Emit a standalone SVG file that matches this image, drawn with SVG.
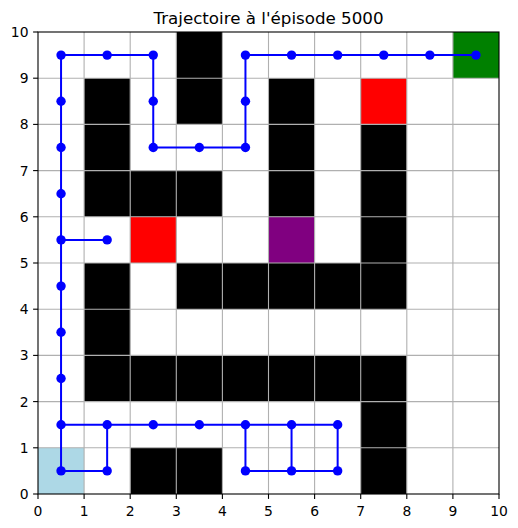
<svg xmlns="http://www.w3.org/2000/svg" xmlns:xlink="http://www.w3.org/1999/xlink" width="518" height="528" viewBox="0 0 518 528">
<style>
text{font-family:"DejaVu Sans","Liberation Sans",sans-serif;fill:#000}
.tk{font-size:13.9px}
.xl{text-anchor:middle}
.yl{text-anchor:end}
.wall{fill:#000}
.grid line{stroke:#b0b0b0;stroke-width:1.1}
.ticks line{stroke:#000;stroke-width:1.1}
.traj{stroke:#0000ff;stroke-width:2;fill:none;stroke-linejoin:round}
</style>
<defs>
<circle id="dot" r="4.7" fill="#0000ff"/>
</defs>
<rect width="518" height="528" fill="#fff"/>
<text x="268.5" y="24" font-size="16.7" text-anchor="middle">Trajectoire à l'épisode 5000</text>
<g id="cells">
<rect x="38" y="447.8" width="46.1" height="46.2" fill="#add8e6"/>
<rect x="452.9" y="32" width="46.1" height="46.2" fill="#008000"/>
<rect x="360.7" y="78.2" width="46.1" height="46.2" fill="#ff0000"/>
<rect x="130.2" y="216.8" width="46.1" height="46.2" fill="#ff0000"/>
<rect x="268.5" y="216.8" width="46.1" height="46.2" fill="#800080"/>
<g class="wall">
<rect x="176.3" y="32" width="46.1" height="92.4"/>
<rect x="84.1" y="78.2" width="46.1" height="138.6"/>
<rect x="268.5" y="78.2" width="46.1" height="138.6"/>
<rect x="360.7" y="124.4" width="46.1" height="184.8"/>
<rect x="130.2" y="170.6" width="92.2" height="46.2"/>
<rect x="84.1" y="263" width="46.1" height="92.4"/>
<rect x="176.3" y="263" width="230.5" height="46.2"/>
<rect x="84.1" y="355.4" width="322.7" height="46.2"/>
<rect x="360.7" y="401.6" width="46.1" height="92.4"/>
<rect x="130.2" y="447.8" width="92.2" height="46.2"/>
</g>
</g>
<g class="grid">
<line x1="84.1" y1="32" x2="84.1" y2="494"/>
<line x1="130.2" y1="32" x2="130.2" y2="494"/>
<line x1="176.3" y1="32" x2="176.3" y2="494"/>
<line x1="222.4" y1="32" x2="222.4" y2="494"/>
<line x1="268.5" y1="32" x2="268.5" y2="494"/>
<line x1="314.6" y1="32" x2="314.6" y2="494"/>
<line x1="360.7" y1="32" x2="360.7" y2="494"/>
<line x1="406.8" y1="32" x2="406.8" y2="494"/>
<line x1="452.9" y1="32" x2="452.9" y2="494"/>
<line x1="38" y1="447.8" x2="499" y2="447.8"/>
<line x1="38" y1="401.6" x2="499" y2="401.6"/>
<line x1="38" y1="355.4" x2="499" y2="355.4"/>
<line x1="38" y1="309.2" x2="499" y2="309.2"/>
<line x1="38" y1="263" x2="499" y2="263"/>
<line x1="38" y1="216.8" x2="499" y2="216.8"/>
<line x1="38" y1="170.6" x2="499" y2="170.6"/>
<line x1="38" y1="124.4" x2="499" y2="124.4"/>
<line x1="38" y1="78.2" x2="499" y2="78.2"/>
</g>
<g id="connectors">
<path class="traj" d="M61.05,470.9 H107.15 V424.7 H61.05 M61.05,470.9 V55.1 H153.25 V147.5 H245.45 V55.1 H475.95 M107.15,424.7 H337.65 V470.9 H245.45 V424.7 M291.55,424.7 V470.9 M61.05,239.9 H107.15"/>
</g>
<g id="points">
<use href="#dot" x="61.05" y="470.9"/><use href="#dot" x="107.15" y="470.9"/>
<use href="#dot" x="245.45" y="470.9"/><use href="#dot" x="291.55" y="470.9"/><use href="#dot" x="337.65" y="470.9"/>
<use href="#dot" x="61.05" y="424.7"/><use href="#dot" x="107.15" y="424.7"/><use href="#dot" x="153.25" y="424.7"/><use href="#dot" x="199.35" y="424.7"/><use href="#dot" x="245.45" y="424.7"/><use href="#dot" x="291.55" y="424.7"/><use href="#dot" x="337.65" y="424.7"/>
<use href="#dot" x="61.05" y="378.5"/><use href="#dot" x="61.05" y="332.3"/><use href="#dot" x="61.05" y="286.1"/>
<use href="#dot" x="61.05" y="239.9"/><use href="#dot" x="107.15" y="239.9"/>
<use href="#dot" x="61.05" y="193.7"/><use href="#dot" x="61.05" y="147.5"/><use href="#dot" x="61.05" y="101.3"/>
<use href="#dot" x="61.05" y="55.1"/><use href="#dot" x="107.15" y="55.1"/><use href="#dot" x="153.25" y="55.1"/>
<use href="#dot" x="153.25" y="101.3"/><use href="#dot" x="153.25" y="147.5"/><use href="#dot" x="199.35" y="147.5"/><use href="#dot" x="245.45" y="147.5"/><use href="#dot" x="245.45" y="101.3"/>
<use href="#dot" x="245.45" y="55.1"/><use href="#dot" x="291.55" y="55.1"/><use href="#dot" x="337.65" y="55.1"/><use href="#dot" x="383.75" y="55.1"/><use href="#dot" x="429.85" y="55.1"/><use href="#dot" x="475.95" y="55.1"/>
</g>
<rect x="38" y="32" width="461" height="462" fill="none" stroke="#000" stroke-width="1.1"/>
<g class="ticks">
<line x1="38" y1="494" x2="38" y2="498.9"/><line x1="84.1" y1="494" x2="84.1" y2="498.9"/><line x1="130.2" y1="494" x2="130.2" y2="498.9"/><line x1="176.3" y1="494" x2="176.3" y2="498.9"/><line x1="222.4" y1="494" x2="222.4" y2="498.9"/><line x1="268.5" y1="494" x2="268.5" y2="498.9"/><line x1="314.6" y1="494" x2="314.6" y2="498.9"/><line x1="360.7" y1="494" x2="360.7" y2="498.9"/><line x1="406.8" y1="494" x2="406.8" y2="498.9"/><line x1="452.9" y1="494" x2="452.9" y2="498.9"/><line x1="499" y1="494" x2="499" y2="498.9"/>
<line x1="33.1" y1="494" x2="38" y2="494"/><line x1="33.1" y1="447.8" x2="38" y2="447.8"/><line x1="33.1" y1="401.6" x2="38" y2="401.6"/><line x1="33.1" y1="355.4" x2="38" y2="355.4"/><line x1="33.1" y1="309.2" x2="38" y2="309.2"/><line x1="33.1" y1="263" x2="38" y2="263"/><line x1="33.1" y1="216.8" x2="38" y2="216.8"/><line x1="33.1" y1="170.6" x2="38" y2="170.6"/><line x1="33.1" y1="124.4" x2="38" y2="124.4"/><line x1="33.1" y1="78.2" x2="38" y2="78.2"/><line x1="33.1" y1="32" x2="38" y2="32"/>
</g>
<g class="tk xl">
<text x="38" y="515.5">0</text><text x="84.1" y="515.5">1</text><text x="130.2" y="515.5">2</text><text x="176.3" y="515.5">3</text><text x="222.4" y="515.5">4</text><text x="268.5" y="515.5">5</text><text x="314.6" y="515.5">6</text><text x="360.7" y="515.5">7</text><text x="406.8" y="515.5">8</text><text x="452.9" y="515.5">9</text><text x="499" y="515.5">10</text>
</g>
<g class="tk yl">
<text x="28.5" y="499">0</text><text x="28.5" y="452.8">1</text><text x="28.5" y="406.6">2</text><text x="28.5" y="360.4">3</text><text x="28.5" y="314.2">4</text><text x="28.5" y="268">5</text><text x="28.5" y="221.8">6</text><text x="28.5" y="175.6">7</text><text x="28.5" y="129.4">8</text><text x="28.5" y="83.2">9</text><text x="28.5" y="37">10</text>
</g>
</svg>
